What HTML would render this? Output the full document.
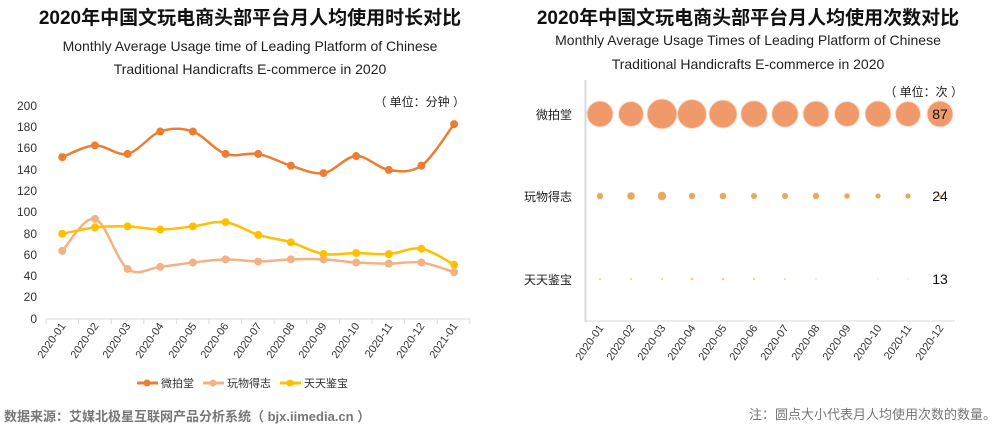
<!DOCTYPE html>
<html><head><meta charset="utf-8"><style>
body{margin:0;background:#fff;}
svg text{font-family:"Liberation Sans","Noto Sans CJK SC",sans-serif;}
</style></head><body>
<svg width="1000" height="427" viewBox="0 0 1000 427" xmlns="http://www.w3.org/2000/svg">
<g text-anchor="middle">
<text x="250" y="24" font-size="19" font-weight="bold" fill="#111">2020年中国文玩电商头部平台月人均使用时长对比</text>
<text x="250" y="51" font-size="14" fill="#222">Monthly Average Usage time of Leading Platform of Chinese</text>
<text x="250" y="74" font-size="14" fill="#222">Traditional Handicrafts E-commerce in 2020</text>
<text x="748" y="24" font-size="19" font-weight="bold" fill="#111">2020年中国文玩电商头部平台月人均使用次数对比</text>
<text x="748" y="45" font-size="14" fill="#222">Monthly Average Usage Times of Leading Platform of Chinese</text>
<text x="748" y="69" font-size="14" fill="#222">Traditional Handicrafts E-commerce in 2020</text>
</g>
<g font-size="12" fill="#333" text-anchor="end">
<text x="37" y="110">200</text><text x="37" y="131">180</text><text x="37" y="152">160</text><text x="37" y="174">140</text><text x="37" y="195">120</text><text x="37" y="216">100</text><text x="37" y="238">80</text><text x="37" y="259">60</text><text x="37" y="280">40</text><text x="37" y="301">20</text><text x="37" y="323">0</text>
</g>
<text x="465" y="106" font-size="12" fill="#222" text-anchor="end">（ 单位：分钟 ）</text>
<line x1="46" y1="319" x2="470" y2="319" stroke="#d9d9d9"/>
<g id="lticks" stroke="#d9d9d9"></g>
<g id="lseries"></g>
<g font-size="11" fill="#333" text-anchor="end">
<text transform="translate(66,326) rotate(-55)">2020-01</text>
<text transform="translate(99,326) rotate(-55)">2020-02</text>
<text transform="translate(131,326) rotate(-55)">2020-03</text>
<text transform="translate(164,326) rotate(-55)">2020-04</text>
<text transform="translate(197,326) rotate(-55)">2020-05</text>
<text transform="translate(229,326) rotate(-55)">2020-06</text>
<text transform="translate(262,326) rotate(-55)">2020-07</text>
<text transform="translate(295,326) rotate(-55)">2020-08</text>
<text transform="translate(327,326) rotate(-55)">2020-09</text>
<text transform="translate(360,326) rotate(-55)">2020-10</text>
<text transform="translate(393,326) rotate(-55)">2020-11</text>
<text transform="translate(425,326) rotate(-55)">2020-12</text>
<text transform="translate(458,326) rotate(-55)">2021-01</text>
</g>
<g font-size="11" fill="#333">
<line x1="137" y1="383" x2="158" y2="383" stroke="#ed7d31" stroke-width="3"/><circle cx="147" cy="383" r="3.5" fill="#ed7d31"/><text x="161" y="387">微拍堂</text>
<line x1="203" y1="383" x2="224" y2="383" stroke="#f4b183" stroke-width="3"/><circle cx="213" cy="383" r="3.5" fill="#f4b183"/><text x="227" y="387">玩物得志</text>
<line x1="280" y1="383" x2="301" y2="383" stroke="#ffc000" stroke-width="3"/><circle cx="290" cy="383" r="3.5" fill="#ffc000"/><text x="304" y="387">天天鉴宝</text>
</g>
<text x="4" y="421" font-size="13" font-weight="bold" fill="#777">数据来源：艾媒北极星互联网产品分析系统（ bjx.iimedia.cn ）</text>
<text x="996" y="419" font-size="13" fill="#777" text-anchor="end">注：圆点大小代表月人均使用次数的数量。</text>
<line x1="585.5" y1="80" x2="585.5" y2="322" stroke="#d9d9d9" stroke-width="2"/>
<line x1="585" y1="321" x2="955" y2="321" stroke="#d9d9d9"/>
<g font-size="12" fill="#222" text-anchor="end">
<text x="572" y="119">微拍堂</text><text x="572" y="201">玩物得志</text><text x="572" y="284">天天鉴宝</text>
</g>
<text x="963" y="96" font-size="12" fill="#222" text-anchor="end">（ 单位：次 ）</text>
<g id="bubbles"></g>
<g font-size="14" fill="#111" text-anchor="middle">
<text x="940" y="119">87</text><text x="940" y="201">24</text><text x="940" y="284">13</text>
</g>
<g font-size="11" fill="#333" text-anchor="end">
<text transform="translate(604,328) rotate(-55)">2020-01</text>
<text transform="translate(635,328) rotate(-55)">2020-02</text>
<text transform="translate(666,328) rotate(-55)">2020-03</text>
<text transform="translate(696,328) rotate(-55)">2020-04</text>
<text transform="translate(727,328) rotate(-55)">2020-05</text>
<text transform="translate(758,328) rotate(-55)">2020-06</text>
<text transform="translate(789,328) rotate(-55)">2020-07</text>
<text transform="translate(820,328) rotate(-55)">2020-08</text>
<text transform="translate(851,328) rotate(-55)">2020-09</text>
<text transform="translate(882,328) rotate(-55)">2020-10</text>
<text transform="translate(912,328) rotate(-55)">2020-11</text>
<text transform="translate(944,328) rotate(-55)">2020-12</text>
</g>
</svg>
<script>
var NS="http://www.w3.org/2000/svg";
function el(t,a,p){var e=document.createElementNS(NS,t);for(var k in a)e.setAttribute(k,a[k]);p.appendChild(e);return e;}
var lt=document.getElementById('lticks');
for(var i=0;i<=13;i++){var x=46+i*32.6;el('line',{x1:x,y1:319,x2:x,y2:324},lt);}
var data=[
[[152,163,155,176,176,155,155,144,137,153,140,144,183],'#ed7d31'],
[[64,94,47,49,53,56,54,56,56,53,52,53,44],'#f4b183'],
[[80,86,87,84,87,91,79,72,61,62,61,66,51],'#ffc000']];
var g=document.getElementById('lseries');
data.forEach(function(s){
 var pts=s[0].map(function(v,i){return [62.3+i*32.65,319-v*1.065];});
 var d='M'+pts[0][0]+','+pts[0][1];
 for(var i=0;i<pts.length-1;i++){
  var p0=pts[Math.max(0,i-1)],p1=pts[i],p2=pts[i+1],p3=pts[Math.min(pts.length-1,i+2)];
  var t=6;
  d+=' C'+(p1[0]+(p2[0]-p0[0])/t)+','+(p1[1]+(p2[1]-p0[1])/t)+' '+(p2[0]-(p3[0]-p1[0])/t)+','+(p2[1]-(p3[1]-p1[1])/t)+' '+p2[0]+','+p2[1];
 }
 el('path',{d:d,fill:'none',stroke:s[1],'stroke-width':2.5},g);
 pts.forEach(function(p){el('circle',{cx:p[0],cy:p[1],r:4,fill:s[1]},g);});
});
var b=document.getElementById('bubbles');
var xs=[600,631,662,692,723,754,785,816,847,878,908,940];
var r1=[13,12.5,15,14.5,14,13.3,13.2,13,12.5,13,12.5,13];
var r2=[3.2,3.8,4.2,3.2,3.3,3,3,3.2,2.8,2.6,2.6,1.5];
var r3=[1,1,1,1.3,1.3,1.1,0.9,0.6,0,0.5,0.6,0];
xs.forEach(function(x,i){
 el('circle',{cx:x,cy:114,r:r1[i],fill:'#f0996a',stroke:'#fbe0d0','stroke-width':1},b);
 el('circle',{cx:x,cy:196,r:r2[i],fill:'#e9a85a'},b);
 if(r3[i]>0)el('circle',{cx:x,cy:279,r:r3[i],fill:'#f3cf6a'},b);
});
</script>
</body></html>
